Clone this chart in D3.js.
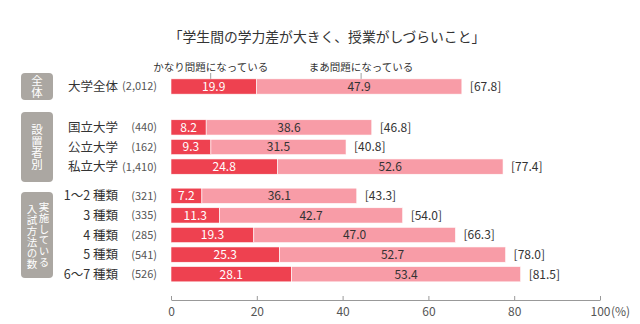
<!DOCTYPE html>
<html>
<head>
<meta charset="utf-8">
<script src="https://cdn.jsdelivr.net/npm/d3@7.9.0/dist/d3.min.js"></script>
<style>
  body { margin: 0; background: #fff; }
  svg { display: block; font-family: "Noto Sans CJK JP", "Noto Sans", sans-serif; }
</style>
</head>
<body>
<svg id="chart" width="640" height="324"></svg>
<script>
const title = '「学生間の学力差が大きく、授業がしづらいこと」';
const seriesNames = ['かなり問題になっている', 'まあ問題になっている'];

// group labels, written vertically, columns read right to left
const groupLabels = [['全体'], ['設置者別'], ['実施している', '入試方法の数']];

const categories = ['大学全体', '国立大学', '公立大学', '私立大学', '1～2 種類', '3 種類', '4 種類', '5 種類', '6～7 種類'];
const counts = ['(2,012)', '(440)', '(162)', '(1,410)', '(321)', '(335)', '(285)', '(541)', '(526)'];
const groupOf = [0, 1, 1, 1, 2, 2, 2, 2, 2];
const serious = [19.9, 8.2, 9.3, 24.8, 7.2, 11.3, 19.3, 25.3, 28.1];
const somewhat = [47.9, 38.6, 31.5, 52.6, 36.1, 42.7, 47.0, 52.7, 53.4];
const totals = [67.8, 46.8, 40.8, 77.4, 43.3, 54.0, 66.3, 78.0, 81.5];
const tickValues = [0, 20, 40, 60, 80, 100];

const colors = ['#ee4150', '#f89ca7'];
const boxColor = '#aba7a2';

const svg = d3.select('#chart');
const x = d3.scaleLinear().domain([0, 100]).range([171, 600]);

// gray group boxes on the left (top, bottom)
const boxes = [[73, 100], [112, 182], [192, 278]];
const rowStep = 19.6;

// one band scale per group, rows centred on their box
const yScales = boxes.map((b, g) => {
  const rows = categories.filter((_, i) => groupOf[i] === g);
  const mid = (b[0] + b[1]) / 2;
  return d3.scaleBand()
    .domain(rows)
    .range([mid - rows.length * rowStep / 2, mid + rows.length * rowStep / 2])
    .paddingInner(0.22)
    .paddingOuter(0.11);
});
const yOf = (i) => yScales[groupOf[i]](categories[i]);
const bh = yScales[0].bandwidth();

svg.append('text')
  .attr('x', 327).attr('y', 42)
  .attr('text-anchor', 'middle')
  .attr('font-size', 13.8)
  .attr('fill', '#333')
  .text(title);

// group boxes with vertical text
boxes.forEach((b, g) => {
  svg.append('rect')
    .attr('x', 21).attr('y', b[0])
    .attr('width', 32).attr('height', b[1] - b[0])
    .attr('rx', 4)
    .attr('fill', boxColor);
  const cols = groupLabels[g];
  cols.forEach((col, c) => {
    svg.append('text')
      .attr('x', cols.length === 1 ? 37 : 44 - c * 12)
      .attr('y', (b[0] + b[1]) / 2 + (c === 1 ? 2 : 0))
      .attr('text-anchor', 'middle')
      .attr('font-size', cols.length === 1 ? 11.5 : 10.5)
      .attr('fill', '#fff')
      .style('writing-mode', 'vertical-rl')
      .style('letter-spacing', cols.length === 1 ? '0px' : '0.6px')
      .text(col);
  });
});

// row labels
const rowsG = svg.append('g');
categories.forEach((cat, i) => {
  const cy = yOf(i) + bh / 2;
  rowsG.append('text')
    .attr('x', 118).attr('y', cy).attr('dy', '0.36em')
    .attr('text-anchor', 'end')
    .attr('font-size', 12.5)
    .attr('fill', '#333')
    .text(cat);
  rowsG.append('text')
    .attr('x', 157).attr('y', cy).attr('dy', '0.36em')
    .attr('text-anchor', 'end')
    .attr('font-size', 11)
    .attr('fill', '#555')
    .text(counts[i]);
});

// stacked bars
const stackData = categories.map((c, i) => ({ cat: c, i, a: serious[i], b: somewhat[i] }));
const stacked = d3.stack().keys(['a', 'b'])(stackData);

stacked.forEach((layer, k) => {
  const g = svg.append('g');
  g.selectAll('rect')
    .data(layer)
    .join('rect')
    .attr('x', (d) => x(d[0]))
    .attr('y', (d) => yOf(d.data.i))
    .attr('width', (d) => x(d[1]) - x(d[0]))
    .attr('height', bh)
    .attr('fill', colors[k])
    .attr('stroke', '#fff')
    .attr('stroke-width', 0.6);
  g.selectAll('text')
    .data(layer)
    .join('text')
    .attr('x', (d) => (x(d[0]) + x(d[1])) / 2)
    .attr('y', (d) => yOf(d.data.i) + bh / 2)
    .attr('dy', '0.36em')
    .attr('text-anchor', 'middle')
    .attr('font-size', 12)
    .attr('fill', k === 0 ? '#fff' : '#333')
    .text((d) => (d[1] - d[0]).toFixed(1));
});

// totals
svg.append('g').selectAll('text')
  .data(totals)
  .join('text')
  .attr('x', (d, i) => x(serious[i] + somewhat[i]) + 8)
  .attr('y', (d, i) => yOf(i) + bh / 2)
  .attr('dy', '0.36em')
  .attr('font-size', 12)
  .attr('fill', '#333')
  .text((d) => `[${d.toFixed(1)}]`);

// legend labels with leaders to the first row
const first = stacked.map((layer) => layer[0]);
first.forEach((d, k) => {
  const cx = (x(d[0]) + x(d[1])) / 2 - (k === 0 ? 3 : -2);
  svg.append('text')
    .attr('x', cx).attr('y', 67).attr('dy', '0.36em')
    .attr('text-anchor', 'middle')
    .attr('font-size', 10.5)
    .attr('fill', '#333')
    .text(seriesNames[k]);
  svg.append('line')
    .attr('x1', cx).attr('x2', cx)
    .attr('y1', 73).attr('y2', yOf(0))
    .attr('stroke', '#888')
    .attr('stroke-width', 0.8);
});

// axis
const axis = svg.append('g')
  .attr('transform', 'translate(0,300)')
  .call(d3.axisBottom(x).tickValues(tickValues).tickSize(-4).tickSizeOuter(0).tickPadding(7));
axis.select('.domain').attr('stroke', '#999');
axis.selectAll('.tick line').attr('stroke', '#999');
axis.selectAll('.tick text')
  .attr('font-size', 12)
  .attr('fill', '#555')
  .attr('font-family', '"Noto Sans CJK JP", sans-serif');
svg.append('text')
  .attr('x', x(100) + 11).attr('y', 300 + 7).attr('dy', '0.71em')
  .attr('font-size', 12)
  .attr('fill', '#555')
  .text('(%)');
</script>
</body>
</html>
